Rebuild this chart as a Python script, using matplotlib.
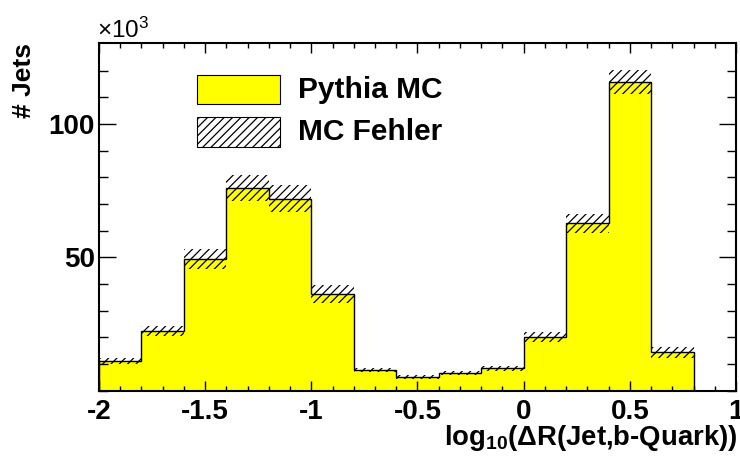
import numpy as np
import matplotlib
matplotlib.use("Agg")
import matplotlib.pyplot as plt
from matplotlib.patches import Rectangle

# Data (thousands of jets)
bin_edges = [-2.0, -1.8, -1.6, -1.4, -1.2, -1.0, -0.8, -0.6, -0.4, -0.2, 0.0, 0.2, 0.4, 0.6, 0.8, 1.0]
counts_k = [11.1, 22.4, 49.3, 76.1, 72.0, 36.3, 7.7, 5.2, 6.5, 8.4, 20.0, 62.7, 115.8, 14.4, 0.0]
errors_k = [1.0, 1.9, 3.7, 4.9, 5.0, 3.4, 0.9, 0.8, 0.8, 0.9, 1.8, 3.7, 4.5, 2.0, 0.0]
xtick_vals = [-2, -1.5, -1, -0.5, 0, 0.5, 1]
xtick_labels = ["-2", "-1.5", "-1", "-0.5", "0", "0.5", "1"]
ytick_vals = [50, 100]
ytick_labels = ["50", "100"]
series_names = ["Pythia MC", "MC Fehler"]

plt.rcParams['font.family'] = ['Liberation Sans', 'DejaVu Sans']
plt.rcParams['mathtext.fontset'] = 'custom'
plt.rcParams['mathtext.rm'] = 'Liberation Sans:bold'
plt.rcParams['mathtext.bf'] = 'Liberation Sans:bold'
plt.rcParams['mathtext.it'] = 'Liberation Sans:bold'
plt.rcParams['mathtext.default'] = 'rm'
plt.rcParams['hatch.linewidth'] = 0.9
plt.rcParams['axes.unicode_minus'] = False

fig = plt.figure(figsize=(7.4, 4.68), dpi=100)
ax = fig.add_axes([99/740, 1-390.6/468, (736-99)/740, (390.6-43)/468])

edges = np.array(bin_edges)
vals = np.array(counts_k)
errs = np.array(errors_k)

ax.stairs(vals, edges, fill=True, color='#ffff00', linewidth=0, zorder=1)
ax.stairs(vals, edges, fill=False, baseline=0, color='black', linewidth=1.0, zorder=3)

widths = np.diff(edges)
mask = errs > 0
ax.bar(edges[:-1][mask], 2*errs[mask], bottom=(vals-errs)[mask], width=widths[mask], align='edge',
       fill=False, hatch='////', edgecolor='black', linewidth=0, zorder=2)

ax.set_xlim(-2, 1)
ax.set_ylim(0, 130.4)
ax.set_xticks(xtick_vals)
ax.set_xticklabels(xtick_labels)
ax.set_yticks(ytick_vals)
ax.set_yticklabels(ytick_labels)
ax.set_xticks(np.arange(-2, 1.0001, 0.1), minor=True)
ax.set_yticks(np.arange(0, 130, 10), minor=True)

for sp in ax.spines.values():
    sp.set_linewidth(1.5)

ax.tick_params(axis='both', which='both', direction='in', top=True, right=True, width=1.0)
ax.tick_params(axis='x', which='major', length=7.5, labelsize=20, pad=6)
ax.tick_params(axis='x', which='minor', length=3.8)
ax.tick_params(axis='y', which='major', length=12.2, labelsize=20, pad=3)
ax.tick_params(axis='y', which='minor', length=6.3)
for lbl in ax.get_xticklabels() + ax.get_yticklabels():
    lbl.set_fontweight('bold')

# Axis titles
fig.text(737/740, 1-445/468, "log$_{10}$(ΔR(Jet,b-Quark))", ha='right', va='baseline',
         fontsize=19.8, fontweight='bold')
fig.text(24/740, 1-43/468, "# Jets", rotation=90, ha='center', va='top',
         fontsize=19, fontweight='bold')
fig.text(97/740, 1-38/468, "×10$^{\\mathregular{3}}$", ha='left', va='baseline', fontsize=17.5)

# Legend
lx0, lx1 = 197, 280
fig.patches.append(Rectangle((lx0/740, 1-104/468), (lx1-lx0)/740, 29/468, transform=fig.transFigure,
                             facecolor='#ffff00', edgecolor='black', linewidth=0.8, figure=fig))
fig.patches.append(Rectangle((lx0/740, 1-147/468), (lx1-lx0)/740, 30/468, transform=fig.transFigure,
                             facecolor='none', edgecolor='black', hatch='////', linewidth=0.8, figure=fig))
fig.text(298/740, 1-89.5/468, series_names[0], ha='left', va='center', fontsize=21.5, fontweight='bold')
fig.text(298/740, 1-132/468, series_names[1], ha='left', va='center', fontsize=21.5, fontweight='bold')

fig.savefig("out.png", dpi=100)
